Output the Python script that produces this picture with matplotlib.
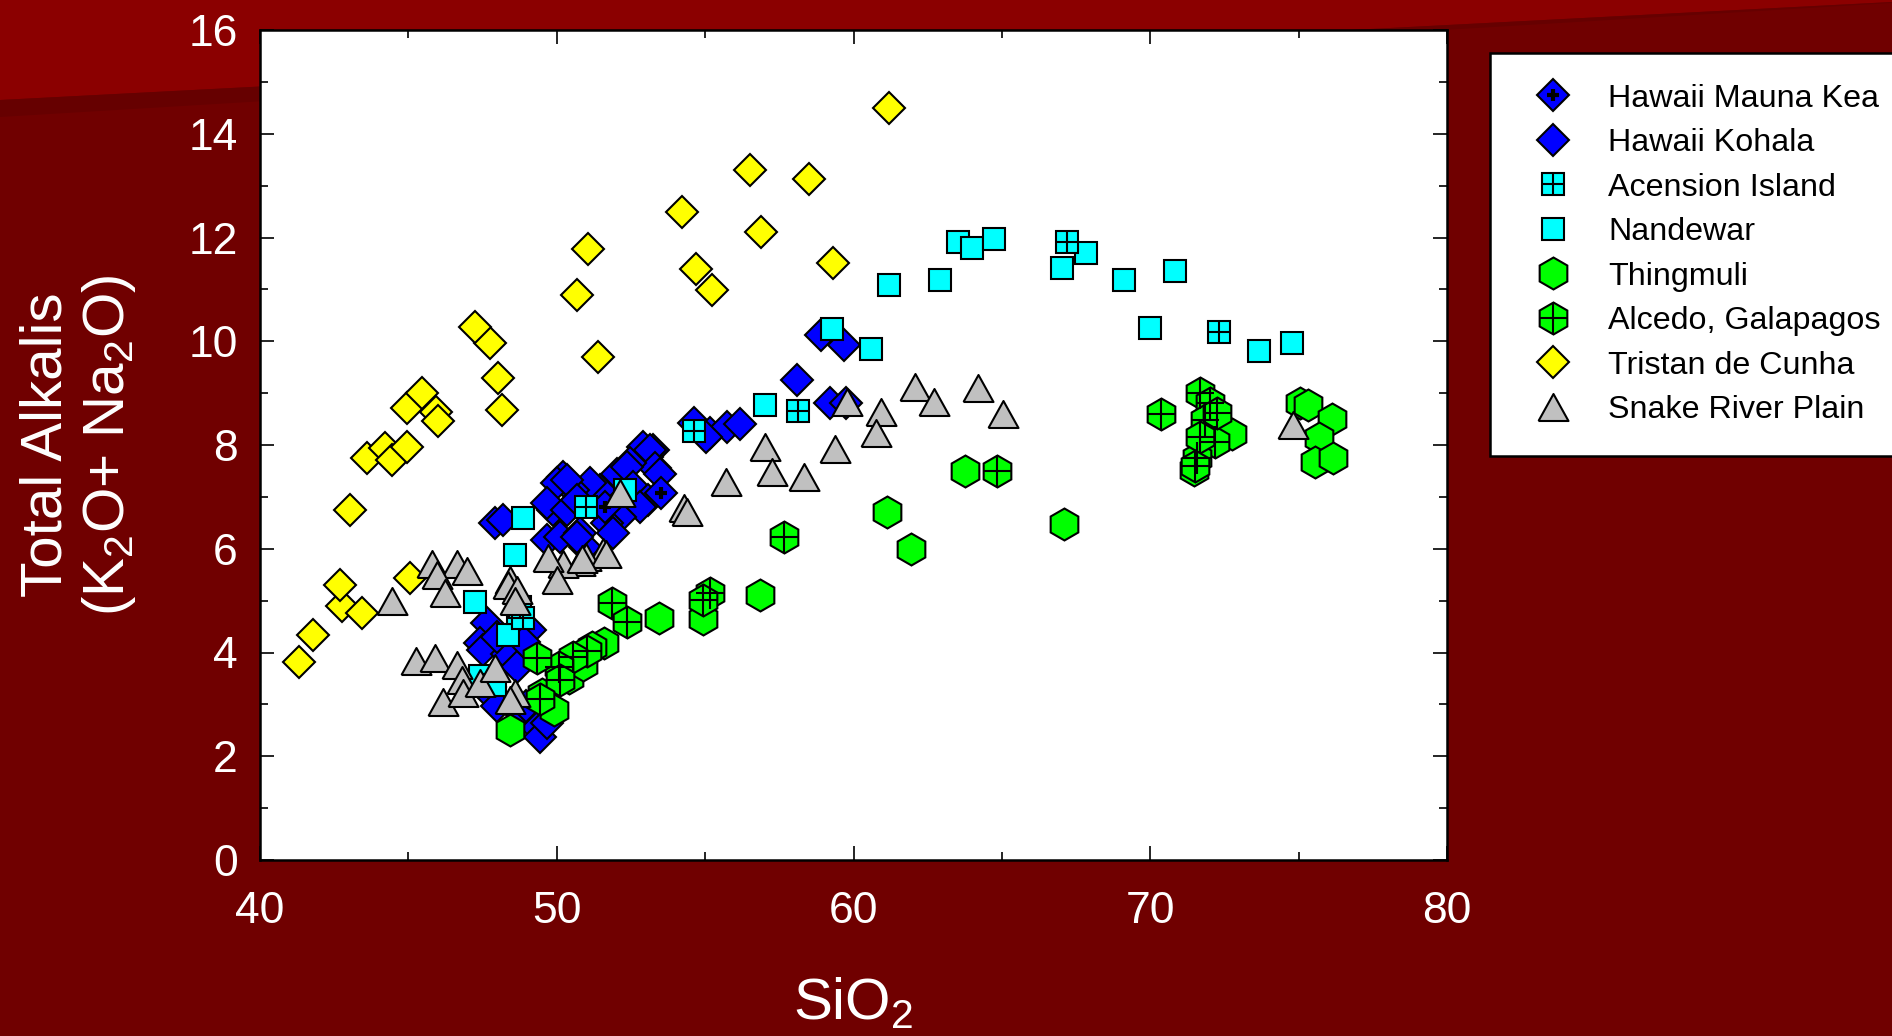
import matplotlib
matplotlib.use("Agg")
import matplotlib.pyplot as plt
from matplotlib.patches import Polygon
from matplotlib.ticker import MultipleLocator

plt.rcParams['font.family'] = ['Liberation Sans', 'DejaVu Sans']
plt.rcParams['mathtext.fontset'] = 'custom'
plt.rcParams['mathtext.rm'] = 'Liberation Sans'
plt.rcParams['mathtext.default'] = 'regular'

# ---------------------------------------------------------------------------
# Data: SiO2 (wt%) vs total alkalis
# ---------------------------------------------------------------------------

tristan_x = [41.3, 41.8, 42.75, 42.7, 43.43, 43.03, 45.05, 43.6, 44.21, 44.44, 44.94,
             44.97, 45.46, 45.93, 46.0, 48.16, 48.01, 47.74, 47.24, 50.68, 51.38,
             51.04, 54.69, 55.22, 54.21, 56.87, 56.51, 58.51, 59.32, 61.18]
tristan_y = [3.82, 4.34, 4.90, 5.30, 4.76, 6.75, 5.43, 7.74, 7.94, 7.71, 7.97,
             8.72, 9.0, 8.64, 8.47, 8.67, 9.29, 9.97, 10.28, 10.89, 9.69,
             11.77, 11.39, 10.99, 12.49, 12.11, 13.30, 13.12, 11.51, 14.50]

kohala_x = [58.9, 59.67, 58.08, 59.22, 59.76, 54.64, 55.16, 55.74, 56.19, 55.03,
            53.26, 53.03, 52.9, 53.14, 53.31, 53.48, 52.47, 52.02, 52.36, 52.58,
            53.09, 52.8, 52.13, 51.68, 51.9, 51.46, 51.12, 50.56, 50.22, 50.0,
            50.33, 49.89, 49.66, 50.33, 50.67, 49.66, 50.11, 50.78, 50.95, 50.67,
            47.92, 48.2, 47.64, 49.1, 47.41, 47.53, 48.31, 48.65, 47.75, 47.86,
            48.76, 49.32, 49.44, 49.66, 47.97, 48.98, 48.0, 48.9]
kohala_y = [10.12, 9.93, 9.25, 8.80, 8.80, 8.42, 8.23, 8.35, 8.40, 8.16,
            7.90, 7.77, 7.97, 7.90, 7.55, 7.45, 7.65, 7.45, 7.58, 7.20,
            6.94, 6.81, 6.62, 6.49, 6.30, 7.13, 7.26, 7.13, 7.39, 7.26,
            7.33, 6.75, 6.88, 6.75, 6.94, 6.17, 6.23, 6.30, 6.04, 6.23,
            6.49, 6.55, 4.56, 4.43, 4.18, 4.05, 3.98, 3.73, 3.34, 3.15,
            2.83, 2.54, 2.38, 2.64, 2.96, 2.96, 4.30, 4.20]

maunakea_x = [53.5, 51.63]
maunakea_y = [7.07, 6.81]

nandewar_x = [63.53, 63.98, 64.72, 62.93, 61.19, 67.01, 67.83, 69.12, 70.84, 69.99,
              73.68, 74.78, 59.29, 60.58, 57.02, 52.3, 48.87, 48.59, 47.25, 48.37,
              48.7, 47.41, 47.92]
nandewar_y = [11.92, 11.79, 11.98, 11.19, 11.09, 11.41, 11.70, 11.19, 11.36, 10.25,
              9.81, 9.96, 10.23, 9.85, 8.77, 7.13, 6.59, 5.88, 4.98, 4.34,
              4.76, 3.55, 3.37]

acension_x = [67.18, 54.64, 58.12, 51.0, 48.76, 48.87, 72.33]
acension_y = [11.91, 8.27, 8.66, 6.81, 4.88, 4.66, 10.17]

thingmuli_x = [63.77, 61.13, 61.93, 67.11, 56.85, 53.46, 54.94, 51.6, 48.42, 50.4,
               50.9, 49.5, 75.05, 75.33, 76.11, 75.67, 75.55, 76.17, 72.74, 71.46,
               51.2, 49.9]
thingmuli_y = [7.50, 6.71, 6.0, 6.48, 5.10, 4.66, 4.65, 4.18, 2.50, 3.5,
               3.75, 3.2, 8.8, 8.77, 8.51, 8.13, 7.68, 7.74, 8.22, 7.52,
               4.1, 2.9]

alcedo_x = [64.84, 57.66, 55.16, 54.94, 51.85, 52.36, 51.01, 50.56, 50.06, 49.32,
            50.11, 49.44, 70.35, 71.68, 72.0, 71.85, 72.18, 71.56, 71.68, 72.24, 71.5]
alcedo_y = [7.50, 6.22, 5.14, 5.01, 4.95, 4.59, 4.02, 3.92, 3.73, 3.90,
            3.47, 3.10, 8.59, 9.0, 8.8, 8.48, 8.06, 7.74, 8.16, 8.61, 7.6]

snake_x = [62.07, 62.72, 64.18, 65.05, 59.77, 60.91, 60.75, 57.03, 57.27, 58.33,
           59.36, 55.72, 74.8, 52.13, 54.29, 54.38, 51.57, 51.0, 50.78, 50.22,
           49.72, 50.0, 48.42, 48.37, 48.65, 48.59, 45.78, 46.63, 45.95, 46.23,
           46.97, 44.44, 45.25, 45.9, 46.63, 46.8, 46.18, 46.85, 47.41, 47.92,
           48.59, 48.42, 51.65, 50.85]
snake_y = [9.12, 8.82, 9.09, 8.59, 8.83, 8.64, 8.23, 7.97, 7.47, 7.39,
           7.92, 7.28, 8.39, 7.07, 6.78, 6.71, 5.94, 5.85, 5.75, 5.70,
           5.82, 5.40, 5.40, 5.30, 5.20, 5.0, 5.70, 5.70, 5.50, 5.15,
           5.57, 5.0, 3.84, 3.90, 3.76, 3.47, 3.05, 3.21, 3.42, 3.70,
           3.21, 3.08, 5.9, 5.8]

# ---------------------------------------------------------------------------
# Figure
# ---------------------------------------------------------------------------

BG_DARK = "#700000"
BG_LIGHT = "#8B0000"
W, H = 1892, 1036

fig = plt.figure(figsize=(W / 100, H / 100), dpi=100, facecolor=BG_DARK)

# lighter slanted band at the top of the slide background
fig.add_artist(Polygon([(0, 1), (1, 1), (1, 1 - 2 / H), (0, 1 - 100 / H)],
                       closed=True, transform=fig.transFigure,
                       facecolor=BG_LIGHT, edgecolor="none", zorder=-10))
fig.add_artist(Polygon([(0, 1 - 100 / H), (1, 1 - 2 / H), (1, 1 - 3 / H), (0, 1 - 117 / H)],
                       closed=True, transform=fig.transFigure,
                       facecolor="#660000", edgecolor="none", zorder=-10))

ax = fig.add_axes([260 / W, 1 - 860 / H, 1187 / W, 830 / H])
ax.set_facecolor("white")

EDGE = dict(markeredgecolor="black", markeredgewidth=1.5, linestyle="none")
TRI = [(-1, -0.9), (1, -0.9), (0, 0.9), (-1, -0.9)]

h_tri, = ax.plot(tristan_x, tristan_y, marker="D", ms=16.3, mfc="#FFFF00", **EDGE)
h_koh, = ax.plot(kohala_x, kohala_y, marker="D", ms=16.3, mfc="#0000FF", **EDGE)
h_mk, = ax.plot(maunakea_x, maunakea_y, marker="D", ms=16.3, mfc="#0000FF", **EDGE)
h_mk2, = ax.plot(maunakea_x, maunakea_y, marker="+", ms=8, mew=3, color="black", linestyle="none")
h_nan, = ax.plot(nandewar_x, nandewar_y, marker="s", ms=16.5, mfc="#00FFFF", **EDGE)
h_ac, = ax.plot(acension_x, acension_y, marker="s", ms=16.5, mfc="#00FFFF", **EDGE)
h_ac2, = ax.plot(acension_x, acension_y, marker="+", ms=16.5, mew=1.5, color="black", linestyle="none")
h_th, = ax.plot(thingmuli_x, thingmuli_y, marker="h", ms=23, mfc="#00FF00", **EDGE)
h_al, = ax.plot(alcedo_x, alcedo_y, marker="h", ms=23, mfc="#00FF00", **EDGE)
h_al2, = ax.plot(alcedo_x, alcedo_y, marker="|", ms=23, mew=1.5, color="black", linestyle="none")
h_al3, = ax.plot(alcedo_x, alcedo_y, marker="_", ms=19.9, mew=1.5, color="black", linestyle="none")
h_sn, = ax.plot(snake_x, snake_y, marker=TRI, ms=21.6, mfc="#C0C0C0", **EDGE)

ax.set_xlim(40, 80)
ax.set_ylim(0, 16)
ax.xaxis.set_major_locator(MultipleLocator(10))
ax.xaxis.set_minor_locator(MultipleLocator(5))
ax.yaxis.set_major_locator(MultipleLocator(2))
ax.yaxis.set_minor_locator(MultipleLocator(1))
ax.tick_params(which="both", direction="in", top=True, right=True, color="black",
               labelcolor="white", labelsize=32)
ax.tick_params(which="major", length=10, width=1.2)
ax.tick_params(which="minor", length=6, width=1.2)
ax.tick_params(axis="x", pad=22)
ax.tick_params(axis="y", pad=16)
for sp in ax.spines.values():
    sp.set_linewidth(1.8)

ax.set_xlabel("SiO$_2$", fontsize=42, color="white")
ax.xaxis.set_label_coords(0.5, -0.14)
ax.set_ylabel("Total Alkalis\n(K$_2$O+ Na$_2$O)", fontsize=42, color="white", linespacing=1.15)
ax.yaxis.set_label_coords(-0.103, 0.5)

handles = [(h_mk, h_mk2), h_koh, (h_ac, h_ac2), h_nan, h_th, (h_al, h_al2, h_al3), h_tri, h_sn]
labels = ["Hawaii Mauna Kea", "Hawaii Kohala", "Acension Island", "Nandewar",
          "Thingmuli", "Alcedo, Galapagos", "Tristan de Cunha", "Snake River Plain"]
leg = fig.legend(handles, labels, loc="upper left", bbox_to_anchor=(1490 / W, 1 - 53 / H),
                 bbox_transform=fig.transFigure, borderaxespad=0, fontsize=23.2,
                 numpoints=1, fancybox=False, framealpha=1, borderpad=0.95,
                 handlelength=2.0, handletextpad=0.72, labelspacing=0.45)
leg.get_frame().set_edgecolor("black")
leg.get_frame().set_linewidth(1.8)

fig.savefig("out.png", dpi=100, facecolor=fig.get_facecolor())
